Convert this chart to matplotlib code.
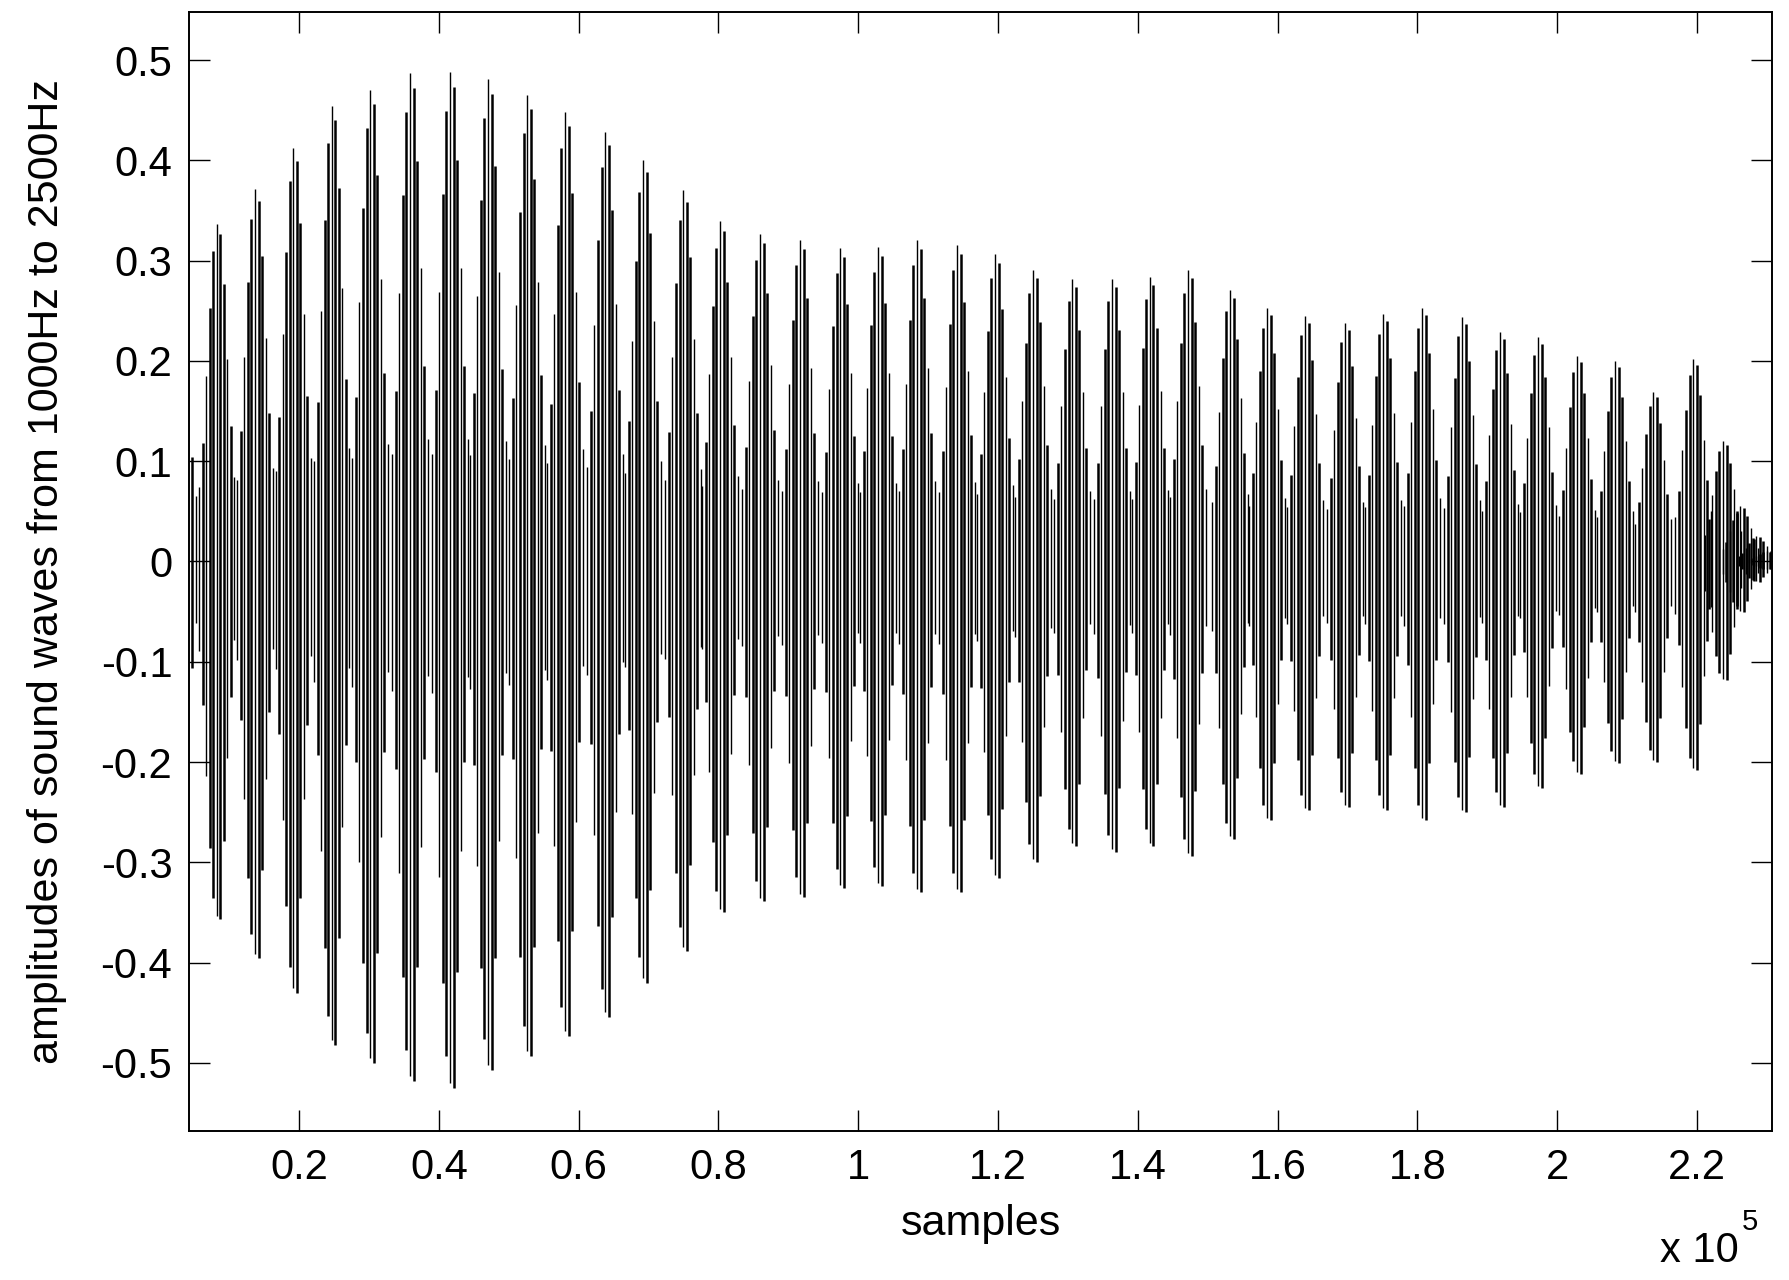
import numpy as np
import matplotlib.pyplot as plt

plt.rcParams['font.family'] = ['Liberation Sans', 'DejaVu Sans']

burst_x = [2700, 8230, 13700, 19180, 24680, 30160, 35880, 41600, 47040, 52620,
           58050, 63780, 69210, 74940, 80230, 85950, 91670, 97400, 102830, 108410,
           114130, 119570, 125010, 130590, 136310, 141740, 147180, 153190, 158480, 163920,
           169640, 175080, 180660, 186380, 191820, 197250, 202830, 208270, 213710, 219440,
           223720, 226200, 228500, 230000]
burst_top = [0.26, 0.337, 0.371, 0.412, 0.454, 0.470, 0.487, 0.488, 0.481, 0.465,
             0.448, 0.428, 0.400, 0.370, 0.340, 0.327, 0.321, 0.313, 0.314, 0.321,
             0.316, 0.307, 0.291, 0.282, 0.282, 0.284, 0.291, 0.271, 0.253, 0.245,
             0.238, 0.247, 0.253, 0.244, 0.229, 0.224, 0.205, 0.200, 0.169, 0.202,
             0.120, 0.055, 0.025, 0.010]
burst_bot = [-0.28, -0.357, -0.395, -0.430, -0.482, -0.500, -0.518, -0.525, -0.507, -0.493,
             -0.473, -0.454, -0.420, -0.388, -0.350, -0.339, -0.335, -0.326, -0.324, -0.330,
             -0.330, -0.316, -0.300, -0.284, -0.290, -0.284, -0.294, -0.277, -0.258, -0.248,
             -0.245, -0.248, -0.258, -0.250, -0.245, -0.226, -0.212, -0.201, -0.200, -0.208,
             -0.118, -0.050, -0.020, -0.008]

# shape of one burst: relative height of its strokes (read from one burst)
stroke_top = [0.22, 0.35, 0.55, 0.75, 0.92, 1.0, 0.97, 0.82, 0.60, 0.40, 0.25]
stroke_bot = [0.25, 0.40, 0.60, 0.80, 0.94, 0.99, 1.0, 0.78, 0.55, 0.38, 0.22]
stroke_lw = [1.0, 1.8, 1.0, 1.8, 1.8, 1.0, 1.8, 1.8, 1.0, 1.8, 1.0]
stroke_step = 505

x_start, x_end = 4260, 230730

xticks = [20000, 40000, 60000, 80000, 100000, 120000, 140000, 160000, 180000, 200000, 220000]
xlabels = ['0.2', '0.4', '0.6', '0.8', '1', '1.2', '1.4', '1.6', '1.8', '2', '2.2']
yticks = [0.5, 0.4, 0.3, 0.2, 0.1, 0, -0.1, -0.2, -0.3, -0.4, -0.5]
ylabels = ['0.5', '0.4', '0.3', '0.2', '0.1', '0', '-0.1', '-0.2', '-0.3', '-0.4', '-0.5']

fig = plt.figure(figsize=(17.89, 12.80), dpi=100)
ax = fig.add_axes([189 / 1789, 149 / 1280, 1583 / 1789, 1119 / 1280])

n = len(stroke_top)
for k in range(n):
    off = (k - n // 2) * stroke_step
    xs, tops, bots = [], [], []
    for bx, bt, bb in zip(burst_x, burst_top, burst_bot):
        x = bx + off
        if x_start <= x <= x_end:
            xs.append(x)
            tops.append(bt * stroke_top[k])
            bots.append(bb * stroke_bot[k])
    ax.vlines(xs, bots, tops, color='black', lw=stroke_lw[k])

ax.set_xlim(x_start, x_end)
ax.set_ylim(-0.568, 0.548)
ax.set_xticks(xticks)
ax.set_xticklabels(xlabels)
ax.set_yticks(yticks)
ax.set_yticklabels(ylabels)
ax.tick_params(direction='in', length=15, width=1.0, labelsize=30, pad=12,
               top=True, right=True)
for s in ax.spines.values():
    s.set_linewidth(1.4)

ax.set_xlabel('samples', fontsize=31, labelpad=12)
ax.set_ylabel('amplitudes of sound waves from 1000Hz to 2500Hz', fontsize=31, labelpad=24)
fig.text(1660 / 1789, 1 - 1262 / 1280, 'x 10', fontsize=30, va='baseline')
fig.text(1742 / 1789, 1 - 1230 / 1280, '5', fontsize=21, va='baseline')

fig.savefig('out.png', dpi=100)
